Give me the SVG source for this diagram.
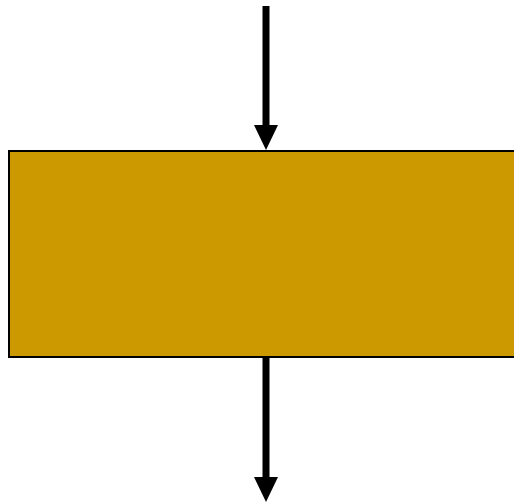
<svg xmlns="http://www.w3.org/2000/svg" width="514" height="503" viewBox="0 0 514 503">
<style>
.box{fill:#CC9900;stroke:#000;stroke-width:2}
.conn{stroke:#000;stroke-width:7;fill:none}
.head{fill:#000}
</style>
<rect width="514" height="503" fill="#fff"/>
<g id="process">
<rect class="box" x="9" y="151" width="510" height="206"/>
</g>
<g id="connectors">
<line class="conn" x1="266" y1="6" x2="266" y2="126"/>
<polygon class="head" points="254,125 278,125 266,150"/>
<line class="conn" x1="266" y1="358" x2="266" y2="478"/>
<polygon class="head" points="254,477 278,477 266,502"/>
</g>
</svg>
